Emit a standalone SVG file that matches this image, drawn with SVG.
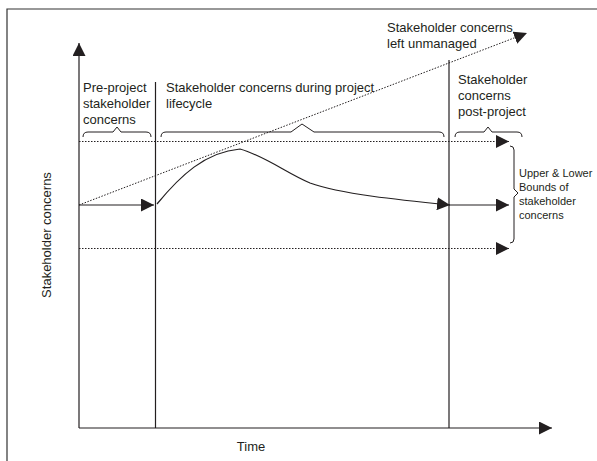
<svg xmlns="http://www.w3.org/2000/svg" width="597" height="461" viewBox="0 0 597 461">
<style>
.ln{stroke:#231f20;stroke-width:1.2;fill:none}
.dot{stroke:#231f20;stroke-width:1;fill:none;stroke-dasharray:1.5 1.5}
.br{stroke:#231f20;stroke-width:1;fill:none}
.t{font-family:"Liberation Sans",Arial,sans-serif;font-size:13px;fill:#231f20}
.s{font-family:"Liberation Sans",Arial,sans-serif;font-size:11px;fill:#231f20}
</style>
<defs>
<marker id="ah" viewBox="0 0 13 13" refX="13" refY="6.5" markerWidth="13" markerHeight="13" markerUnits="userSpaceOnUse" orient="auto">
<path d="M0,0 L13,6.5 L0,13 z" fill="#231f20"/>
</marker>
</defs>
<rect x="0" y="0" width="597" height="461" fill="#fff"/>
<g id="frame">
<path d="M7,461 L7,9 L597,9" stroke="#333" stroke-width="1.2" fill="none"/>
</g>
<g id="axes">
<line class="ln" x1="79" y1="428" x2="79" y2="43" marker-end="url(#ah)"/>
<line class="ln" x1="79" y1="428" x2="552" y2="428" marker-end="url(#ah)"/>
<line class="ln" x1="155.5" y1="82" x2="155.5" y2="428"/>
<line class="ln" x1="449" y1="60" x2="449" y2="428"/>
</g>
<g id="connectors">
<line class="dot" x1="79" y1="141.5" x2="509" y2="141.5" marker-end="url(#ah)"/>
<line class="dot" x1="79" y1="248.5" x2="509" y2="248.5" marker-end="url(#ah)"/>
<line class="ln" x1="79" y1="205" x2="154" y2="205" marker-end="url(#ah)"/>
<line class="ln" x1="449" y1="205" x2="509" y2="205" marker-end="url(#ah)"/>
<line class="dot" x1="79" y1="205" x2="527" y2="33" marker-end="url(#ah)"/>
<path class="ln" d="M157,204 C180,176 205,152 240,149 C265,156 288,174 310,183 C340,194 400,200 450,205" marker-end="url(#ah)"/>
</g>
<g id="braces">
<path class="br" d="M83,137 Q83,132 88,132 L113,132 L117,127 L121,132 L146,132 Q151,132 151,137"/>
<path class="br" d="M161,137 Q161,132 166,132 L291,132 L302,124 L314,132 L439,132 Q444,132 444,137"/>
<path class="br" d="M455,137 Q455,132 460,132 L484,132 L488,127 L492,132 L517,132 Q522,132 522,137"/>
<path class="br" d="M510,146 Q514,146 514,150 L514,189 L518,193 L514,197 L514,239 Q514,243 510,243"/>
</g>
<g id="label-pre">
<text class="t" x="83" y="92">Pre-project</text>
<text class="t" x="83" y="108">stakeholder</text>
<text class="t" x="83" y="124">concerns</text>
</g>
<g id="label-during">
<text class="t" x="166" y="92">Stakeholder concerns during project</text>
<text class="t" x="166" y="108">lifecycle</text>
</g>
<g id="label-unmanaged">
<text class="t" x="387" y="32">Stakeholder concerns</text>
<text class="t" x="387" y="48">left unmanaged</text>
</g>
<g id="label-post">
<text class="t" x="458" y="84">Stakeholder</text>
<text class="t" x="458" y="100">concerns</text>
<text class="t" x="458" y="116">post-project</text>
</g>
<g id="label-bounds">
<text class="s" x="519" y="177">Upper &amp; Lower</text>
<text class="s" x="519" y="191">Bounds of</text>
<text class="s" x="519" y="205">stakeholder</text>
<text class="s" x="519" y="219">concerns</text>
</g>
<g id="label-y">
<text class="t" text-anchor="middle" transform="translate(51,235) rotate(-90)">Stakeholder concerns</text>
</g>
<g id="label-x">
<text class="t" x="251" y="451" text-anchor="middle">Time</text>
</g>
</svg>
